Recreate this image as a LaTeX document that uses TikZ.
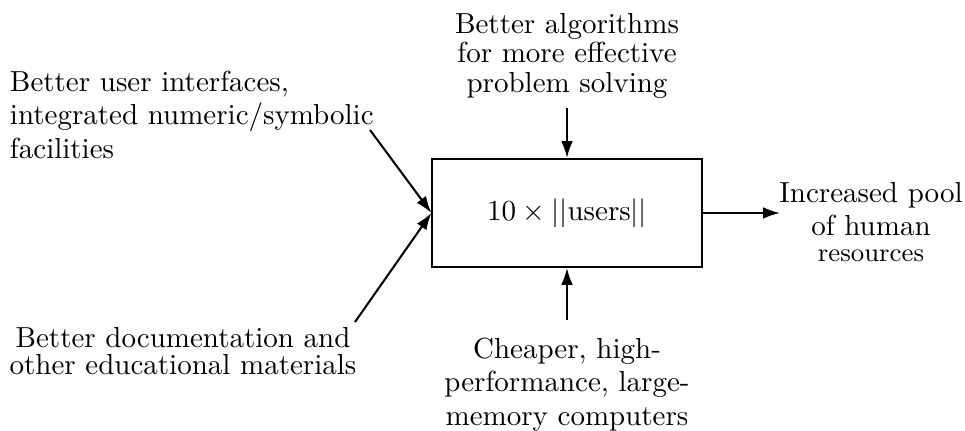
\documentclass[tikz,border=0pt]{standalone}
\usetikzlibrary{arrows.meta}
\begin{document}
\begin{tikzpicture}[x=0.3448pt,y=-0.3448pt,
  conn/.style={line width=0.7pt,-{Latex[length=5.8pt,width=4pt]}},
  txt/.style={inner sep=0pt,outer sep=0pt},
  mainbox/.style={draw,line width=0.7pt,minimum width=92.8pt,minimum height=37.2pt,inner sep=0pt}]
\useasboundingbox (0,0) rectangle (965,431);
\node[mainbox] (box) at (567,213) {$10\times||\mbox{users}||$};
\node[txt,align=center,anchor=north,font=\fontsize{10}{10.3pt}\selectfont] (top) at (567,13) {Better algorithms\\for more effective\\problem solving};
\coordinate (topend) at (567,108);
\draw[conn] (topend) -- (box.north);
\node[txt,align=center,anchor=north,font=\fontsize{10}{11.5pt}\selectfont] (bot) at (567,338) {Cheaper, high-\\performance, large-\\memory computers};
\coordinate (botend) at (567,320);
\draw[conn] (botend) -- (box.south);
\node[txt,align=center,anchor=north,font=\fontsize{10}{11.5pt}\selectfont] (out) at (871,182) {Increased pool\\of human\\[-2.5pt]{\small resources}};
\coordinate (outend) at (780,213);
\draw[conn] (box.east) -- (outend);
\node[txt,align=left,anchor=north west,font=\fontsize{10}{11.5pt}\selectfont] (ul) at (10,71) {Better user interfaces,\\integrated numeric/symbolic\\facilities};
\coordinate (ulend) at (370,130);
\draw[conn] (ulend) -- (box.west);
\node[txt,align=center,anchor=north,font=\fontsize{10}{9.5pt}\selectfont] (ll) at (183,327) {Better documentation and\\other educational materials};
\coordinate (llend) at (355,322);
\draw[conn] (llend) -- (box.west);
\end{tikzpicture}
\end{document}
